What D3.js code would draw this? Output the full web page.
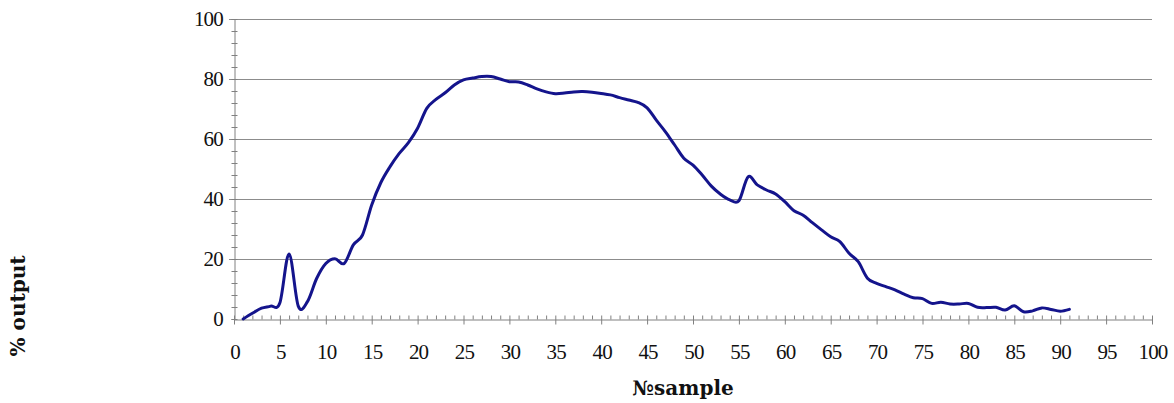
<!DOCTYPE html>
<html>
<head>
<meta charset="utf-8">
<script src="https://cdn.jsdelivr.net/npm/d3@7"></script>
<style>
  html, body { margin: 0; padding: 0; background: #fff; }
  svg { display: block; }
  .tick-label { font-family: "Liberation Serif", "Times New Roman", serif; font-size: 21px; fill: #111; letter-spacing: -0.8px; }
  .axis-title { font-family: "DejaVu Serif", serif; font-weight: bold; font-size: 20px; fill: #111; }
</style>
</head>
<body>
<svg id="chart" width="1174" height="403"></svg>
<script>
// Sample numbers and their output percentage
const samples = d3.range(1, 92);
const outputPct = [
  0.0, 1.9, 3.6, 4.3, 5.4, 21.7, 4.3, 5.8, 13.5, 18.5,
  20.1, 18.5, 24.7, 28.0, 38.0, 45.5, 50.8, 55.2, 58.8, 63.6,
  70.2, 73.2, 75.4, 78.0, 79.7, 80.3, 80.8, 80.8, 80.0, 79.1,
  79.0, 78.0, 76.7, 75.7, 75.1, 75.3, 75.7, 75.8, 75.6, 75.2,
  74.7, 73.8, 73.0, 72.2, 70.4, 66.3, 62.4, 58.0, 53.6, 51.3,
  48.0, 44.3, 41.6, 39.7, 39.4, 47.4, 44.7, 43.0, 41.7, 39.1,
  36.1, 34.6, 32.1, 29.7, 27.4, 25.8, 21.9, 19.1, 13.6, 11.9,
  10.8, 9.7, 8.3, 7.1, 6.8, 5.2, 5.6, 5.0, 5.0, 5.2,
  3.9, 3.8, 3.9, 3.0, 4.4, 2.4, 2.7, 3.7, 3.2, 2.6,
  3.2
];
const xTicks = d3.range(0, 101, 5);
const xMinorTicks = d3.range(0, 101, 1);
const yTicks = [0, 20, 40, 60, 80, 100];
const yMinorTicks = d3.range(0, 101, 4);

const svg = d3.select("#chart");
const plotLeft = 234, plotRight = 1152, plotTop = 19, plotBottom = 319;

const x = d3.scaleLinear().domain([0, 100]).range([plotLeft, plotRight]);
const y = d3.scaleLinear().domain([0, 100]).range([plotBottom, plotTop]);

// Horizontal grid lines at the labelled values
svg.append("g").selectAll("line")
  .data(yTicks.filter(d => d > 0))
  .join("line")
  .attr("x1", plotLeft - 5).attr("x2", plotRight)
  .attr("y1", d => y(d) + 0.5).attr("y2", d => y(d) + 0.5)
  .attr("stroke", "#8c8c8c").attr("stroke-width", 1);

// Y axis: minor ticks crossing the axis line, labels on the left
const yAxis = svg.append("g").attr("transform", `translate(${plotLeft + 0.5},0)`);
yAxis.call(d3.axisLeft(y).tickValues(yMinorTicks).tickSize(3).tickFormat(""));
yAxis.select(".domain").attr("stroke", "#808080");
yAxis.selectAll(".tick line").attr("stroke", "#808080").attr("x2", 3).attr("x1", -3);
yAxis.selectAll(".tick").attr("transform", d => `translate(0,${y(d) + 0.5})`);

svg.append("g").selectAll("text")
  .data(yTicks)
  .join("text")
  .attr("class", "tick-label")
  .attr("x", plotLeft - 11)
  .attr("y", d => y(d) + 7)
  .attr("text-anchor", "end")
  .text(d => d);

// X axis: short minor ticks every sample, longer ticks every 5
const xAxis = svg.append("g").attr("transform", `translate(0,${plotBottom + 0.5})`);
xAxis.call(d3.axisBottom(x).tickValues(xMinorTicks).tickSize(0).tickFormat(""));
xAxis.select(".domain").attr("stroke", "#808080");
xAxis.selectAll(".tick line")
  .attr("stroke", "#808080")
  .attr("y1", -4)
  .attr("y2", d => (d % 5 === 0 ? 5 : 0));
xAxis.selectAll(".tick").attr("transform", d => `translate(${x(d) + 0.5},0)`);

svg.append("g").selectAll("text")
  .data(xTicks)
  .join("text")
  .attr("class", "tick-label")
  .attr("x", d => x(d) + 1)
  .attr("y", plotBottom + 40)
  .attr("text-anchor", "middle")
  .text(d => d);

// Smoothed output curve
const line = d3.line()
  .x((d, i) => x(samples[i]))
  .y(d => y(d))
  .curve(d3.curveCardinal.tension(0));

svg.append("path")
  .datum(outputPct)
  .attr("d", line)
  .attr("fill", "none")
  .attr("stroke", "#14148c")
  .attr("stroke-width", 3)
  .attr("stroke-linejoin", "round")
  .attr("stroke-linecap", "round");

// Axis titles
svg.append("text")
  .attr("class", "axis-title")
  .attr("transform", "translate(25,306) rotate(-90)")
  .attr("text-anchor", "middle")
  .text("% output");

svg.append("text")
  .attr("class", "axis-title")
  .attr("x", 683)
  .attr("y", 395)
  .attr("text-anchor", "middle")
  .text("№sample");
</script>
</body>
</html>
